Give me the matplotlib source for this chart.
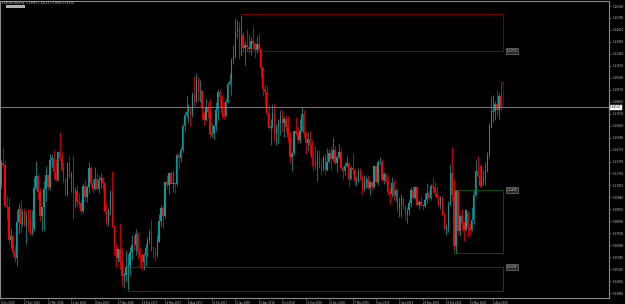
import matplotlib
matplotlib.use("Agg")
import matplotlib.pyplot as plt
from matplotlib.patches import Rectangle
import numpy as np

### Donnees : EURUSD hebdo, premiere bougie = semaine du 4 Oct 2015
opens = [
    1.1200, 1.1359, 1.1350, 1.1016, 1.1005, 1.0740, 1.0768, 1.0643, 1.0593, 1.0881,
    1.0990, 1.0866, 1.0966, 1.0862, 1.0925, 1.0915, 1.0796, 1.0831, 1.1157, 1.1255,
    1.1130, 1.0932, 1.1003, 1.1152, 1.1268, 1.1166, 1.1391, 1.1400, 1.1286, 1.1224,
    1.1454, 1.1403, 1.1310, 1.1225, 1.1115, 1.1365, 1.1253, 1.1275, 1.1116, 1.1138,
    1.1050, 1.1040, 1.0977, 1.1175, 1.1086, 1.1165, 1.1323, 1.1199, 1.1155, 1.1233,
    1.1155, 1.1228, 1.1240, 1.1200, 1.0972, 1.0886, 1.0986, 1.1139, 1.0851, 1.0690,
    1.0591, 1.0664, 1.0562, 1.0450, 1.0454, 1.0517, 1.0530, 1.0643, 1.0699, 1.0695,
    1.0785, 1.0641, 1.0615, 1.0562, 1.0620, 1.0672, 1.0735, 1.0800, 1.0652, 1.0641,
    1.0615, 1.0725, 1.0895, 1.0997, 1.0932, 1.1205, 1.1184, 1.1282, 1.1196, 1.1197,
    1.1195, 1.1425, 1.1400, 1.1470, 1.1665, 1.1750, 1.1775, 1.1820, 1.1760, 1.1925,
    1.1860, 1.2035, 1.1940, 1.1950, 1.1760, 1.1715, 1.1820, 1.1780, 1.1600, 1.1610,
    1.1665, 1.1795, 1.1935, 1.1895, 1.1770, 1.1745, 1.1860, 1.2005, 1.2030, 1.2200,
    1.2220, 1.2425, 1.2460, 1.2250, 1.2405, 1.2295, 1.2320, 1.2305, 1.2290, 1.2355,
    1.2325, 1.2280, 1.2330, 1.2290, 1.2130, 1.1960, 1.1940, 1.1770, 1.1650, 1.1660,
    1.1765, 1.1610, 1.1655, 1.1685, 1.1745, 1.1685, 1.1720, 1.1655, 1.1570, 1.1410,
    1.1440, 1.1620, 1.1600, 1.1550, 1.1625, 1.1760, 1.1605, 1.1525, 1.1560, 1.1510,
    1.1400, 1.1385, 1.1335, 1.1415, 1.1325, 1.1315, 1.1405, 1.1305, 1.1370, 1.1440,
    1.1395, 1.1470, 1.1365, 1.1410, 1.1455, 1.1325, 1.1295, 1.1335, 1.1365, 1.1235,
    1.1325, 1.1305, 1.1215, 1.1215, 1.1300, 1.1245, 1.1150, 1.1200, 1.1235, 1.1160,
    1.1205, 1.1170, 1.1335, 1.1210, 1.1370, 1.1370, 1.1225, 1.1270, 1.1220, 1.1125,
    1.1110, 1.1200, 1.1095, 1.1145, 1.0990, 1.1030, 1.1075, 1.1015, 1.0940, 1.0980,
    1.1040, 1.1145, 1.1080, 1.1165, 1.1020, 1.1050, 1.1020, 1.1015, 1.1060, 1.1120,
    1.1080, 1.1175, 1.1165, 1.1120, 1.1090, 1.1025, 1.1090, 1.0945, 1.0830, 1.0845,
    1.1025, 1.1285, 1.1105, 1.0690, 1.1140, 1.0810, 1.0935, 1.0875, 1.0820, 1.0960,
    1.0840, 1.0820, 1.0900, 1.1100, 1.1295, 1.1255, 1.1180, 1.1220, 1.1245, 1.1300,
    1.1425, 1.1655, 1.1775, 1.1785, 1.1840, 1.1795, 1.1905,
]
highs = [
    1.1387, 1.1495, 1.1387, 1.1095, 1.1087, 1.0829, 1.0785, 1.0690, 1.0981, 1.1042,
    1.1059, 1.0992, 1.0994, 1.0971, 1.0987, 1.0993, 1.0985, 1.1246, 1.1376, 1.1270,
    1.1160, 1.1015, 1.1218, 1.1342, 1.1276, 1.1438, 1.1439, 1.1465, 1.1398, 1.1462,
    1.1616, 1.1451, 1.1370, 1.1252, 1.1375, 1.1416, 1.1298, 1.1428, 1.1168, 1.1186,
    1.1120, 1.1063, 1.1198, 1.1234, 1.1187, 1.1367, 1.1342, 1.1240, 1.1328, 1.1279,
    1.1258, 1.1280, 1.1253, 1.1215, 1.1039, 1.0990, 1.1143, 1.1300, 1.0863, 1.0710,
    1.0672, 1.0874, 1.0670, 1.0480, 1.0654, 1.0621, 1.0684, 1.0775, 1.0775, 1.0829,
    1.0801, 1.0679, 1.0630, 1.0630, 1.0715, 1.0760, 1.0828, 1.0906, 1.0692, 1.0679,
    1.0779, 1.0949, 1.1020, 1.1024, 1.1212, 1.1268, 1.1285, 1.1296, 1.1296, 1.1210,
    1.1446, 1.1445, 1.1490, 1.1679, 1.1777, 1.1910, 1.1845, 1.1826, 1.1940, 1.2070,
    1.2092, 1.2059, 1.2034, 1.1956, 1.1788, 1.1880, 1.1860, 1.1880, 1.1688, 1.1675,
    1.1861, 1.1961, 1.1961, 1.1915, 1.1862, 1.1880, 1.2023, 1.2089, 1.2215, 1.2323,
    1.2537, 1.2524, 1.2508, 1.2555, 1.2425, 1.2355, 1.2446, 1.2413, 1.2388, 1.2476,
    1.2345, 1.2396, 1.2414, 1.2297, 1.2150, 1.1996, 1.1997, 1.1831, 1.1719, 1.1840,
    1.1852, 1.1676, 1.1720, 1.1790, 1.1791, 1.1746, 1.1750, 1.1746, 1.1621, 1.1450,
    1.1624, 1.1734, 1.1660, 1.1721, 1.1815, 1.1791, 1.1624, 1.1611, 1.1621, 1.1549,
    1.1457, 1.1500, 1.1472, 1.1472, 1.1402, 1.1425, 1.1442, 1.1486, 1.1474, 1.1498,
    1.1570, 1.1500, 1.1418, 1.1514, 1.1488, 1.1342, 1.1372, 1.1420, 1.1375, 1.1340,
    1.1448, 1.1326, 1.1255, 1.1323, 1.1324, 1.1265, 1.1265, 1.1255, 1.1264, 1.1214,
    1.1215, 1.1348, 1.1348, 1.1384, 1.1412, 1.1393, 1.1286, 1.1284, 1.1255, 1.1162,
    1.1250, 1.1230, 1.1153, 1.1164, 1.1085, 1.1109, 1.1080, 1.1025, 1.1000, 1.1063,
    1.1172, 1.1179, 1.1175, 1.1176, 1.1064, 1.1097, 1.1030, 1.1116, 1.1200, 1.1145,
    1.1190, 1.1239, 1.1205, 1.1173, 1.1100, 1.1096, 1.1095, 1.0963, 1.0865, 1.1053,
    1.1355, 1.1495, 1.1236, 1.1147, 1.1148, 1.0952, 1.0991, 1.0889, 1.0990, 1.0975,
    1.0875, 1.1008, 1.1146, 1.1384, 1.1423, 1.1348, 1.1349, 1.1303, 1.1371, 1.1452,
    1.1689, 1.1908, 1.1916, 1.1865, 1.1966, 1.1928, 1.2011,
]
lows = [
    1.1161, 1.1340, 1.1004, 1.0897, 1.0705, 1.0675, 1.0616, 1.0557, 1.0524, 1.0796,
    1.0805, 1.0850, 1.0848, 1.0710, 1.0805, 1.0778, 1.0775, 1.0810, 1.1140, 1.1067,
    1.0896, 1.0809, 1.0822, 1.1055, 1.1144, 1.1143, 1.1327, 1.1233, 1.1217, 1.1216,
    1.1383, 1.1301, 1.1201, 1.1097, 1.1098, 1.1240, 1.1131, 1.0912, 1.0999, 1.1004,
    1.0998, 1.0952, 1.0960, 1.1046, 1.1046, 1.1123, 1.1180, 1.1123, 1.1144, 1.1147,
    1.1123, 1.1163, 1.1134, 1.0956, 1.0859, 1.0851, 1.0942, 1.0840, 1.0616, 1.0518,
    1.0560, 1.0505, 1.0366, 1.0352, 1.0405, 1.0340, 1.0453, 1.0580, 1.0655, 1.0619,
    1.0592, 1.0521, 1.0494, 1.0493, 1.0525, 1.0600, 1.0715, 1.0650, 1.0590, 1.0569,
    1.0603, 1.0721, 1.0850, 1.0839, 1.0920, 1.1161, 1.1109, 1.1190, 1.1131, 1.1118,
    1.1176, 1.1312, 1.1372, 1.1450, 1.1613, 1.1728, 1.1688, 1.1661, 1.1733, 1.1823,
    1.1857, 1.1868, 1.1861, 1.1717, 1.1669, 1.1705, 1.1731, 1.1574, 1.1573, 1.1554,
    1.1620, 1.1713, 1.1817, 1.1729, 1.1718, 1.1734, 1.1850, 1.1998, 1.1915, 1.2165,
    1.2214, 1.2376, 1.2206, 1.2231, 1.2260, 1.2154, 1.2273, 1.2258, 1.2240, 1.2284,
    1.2215, 1.2256, 1.2273, 1.2055, 1.1910, 1.1823, 1.1750, 1.1637, 1.1510, 1.1645,
    1.1541, 1.1508, 1.1527, 1.1590, 1.1616, 1.1575, 1.1616, 1.1531, 1.1365, 1.1301,
    1.1431, 1.1588, 1.1526, 1.1529, 1.1613, 1.1573, 1.1432, 1.1462, 1.1432, 1.1336,
    1.1302, 1.1314, 1.1216, 1.1320, 1.1267, 1.1300, 1.1269, 1.1301, 1.1359, 1.1309,
    1.1380, 1.1354, 1.1289, 1.1399, 1.1318, 1.1234, 1.1263, 1.1330, 1.1176, 1.1225,
    1.1273, 1.1176, 1.1182, 1.1205, 1.1228, 1.1112, 1.1135, 1.1160, 1.1155, 1.1107,
    1.1140, 1.1160, 1.1202, 1.1181, 1.1351, 1.1207, 1.1193, 1.1201, 1.1101, 1.1027,
    1.1090, 1.1066, 1.1051, 1.0963, 1.0926, 1.0927, 1.0990, 1.0903, 1.0879, 1.0940,
    1.1010, 1.1073, 1.1070, 1.1015, 1.0989, 1.1015, 1.0981, 1.1000, 1.1040, 1.1065,
    1.1066, 1.1125, 1.1086, 1.1086, 1.1018, 1.0992, 1.0940, 1.0827, 1.0778, 1.0806,
    1.1023, 1.1054, 1.0654, 1.0636, 1.0778, 1.0769, 1.0812, 1.0727, 1.0811, 1.0766,
    1.0775, 1.0815, 1.0870, 1.1099, 1.1250, 1.1168, 1.1170, 1.1186, 1.1185, 1.1290,
    1.1400, 1.1650, 1.1696, 1.1711, 1.1753, 1.1722, 1.1789,
]
closes = [
    1.1359, 1.1350, 1.1016, 1.1005, 1.0740, 1.0768, 1.0643, 1.0593, 1.0881, 1.0990,
    1.0866, 1.0966, 1.0862, 1.0925, 1.0915, 1.0796, 1.0831, 1.1157, 1.1255, 1.1130,
    1.0932, 1.1003, 1.1152, 1.1268, 1.1166, 1.1391, 1.1400, 1.1286, 1.1224, 1.1454,
    1.1403, 1.1310, 1.1225, 1.1115, 1.1365, 1.1253, 1.1275, 1.1116, 1.1138, 1.1050,
    1.1040, 1.0977, 1.1175, 1.1086, 1.1165, 1.1323, 1.1199, 1.1155, 1.1233, 1.1155,
    1.1228, 1.1240, 1.1200, 1.0972, 1.0886, 1.0986, 1.1139, 1.0851, 1.0690, 1.0591,
    1.0664, 1.0562, 1.0450, 1.0454, 1.0517, 1.0530, 1.0643, 1.0699, 1.0695, 1.0785,
    1.0641, 1.0615, 1.0562, 1.0620, 1.0672, 1.0735, 1.0800, 1.0652, 1.0641, 1.0615,
    1.0725, 1.0895, 1.0997, 1.0932, 1.1205, 1.1184, 1.1282, 1.1196, 1.1197, 1.1195,
    1.1425, 1.1400, 1.1470, 1.1665, 1.1750, 1.1775, 1.1820, 1.1760, 1.1925, 1.1860,
    1.2035, 1.1940, 1.1950, 1.1815, 1.1715, 1.1820, 1.1780, 1.1600, 1.1610, 1.1665,
    1.1795, 1.1935, 1.1895, 1.1770, 1.1745, 1.1860, 1.2005, 1.2030, 1.2200, 1.2220,
    1.2425, 1.2460, 1.2250, 1.2405, 1.2295, 1.2320, 1.2305, 1.2290, 1.2355, 1.2325,
    1.2280, 1.2330, 1.2290, 1.2130, 1.1960, 1.1940, 1.1770, 1.1650, 1.1660, 1.1765,
    1.1610, 1.1655, 1.1685, 1.1745, 1.1685, 1.1720, 1.1655, 1.1570, 1.1410, 1.1440,
    1.1620, 1.1600, 1.1550, 1.1625, 1.1760, 1.1605, 1.1525, 1.1560, 1.1510, 1.1400,
    1.1385, 1.1335, 1.1415, 1.1325, 1.1315, 1.1405, 1.1305, 1.1370, 1.1440, 1.1395,
    1.1470, 1.1365, 1.1410, 1.1455, 1.1325, 1.1295, 1.1335, 1.1365, 1.1235, 1.1325,
    1.1305, 1.1215, 1.1215, 1.1300, 1.1245, 1.1150, 1.1200, 1.1235, 1.1160, 1.1205,
    1.1170, 1.1335, 1.1210, 1.1370, 1.1370, 1.1225, 1.1270, 1.1220, 1.1125, 1.1110,
    1.1200, 1.1095, 1.1145, 1.0990, 1.1030, 1.1075, 1.1015, 1.0940, 1.0980, 1.1040,
    1.1145, 1.1080, 1.1165, 1.1020, 1.1050, 1.1020, 1.1015, 1.1060, 1.1120, 1.1080,
    1.1175, 1.1165, 1.1120, 1.1090, 1.1025, 1.1090, 1.0945, 1.0830, 1.0845, 1.1025,
    1.1285, 1.1105, 1.0690, 1.1140, 1.0810, 1.0935, 1.0875, 1.0820, 1.0980, 1.0840,
    1.0820, 1.0900, 1.1100, 1.1295, 1.1255, 1.1180, 1.1220, 1.1245, 1.1300, 1.1425,
    1.1655, 1.1775, 1.1785, 1.1840, 1.1795, 1.1905, 1.1813,
]

# etiquettes de dates toutes les 12 semaines
date_idx = [0, 12, 24, 36, 48, 60, 72, 84, 96, 108, 120, 132, 144, 156, 168,
            180, 192, 204, 216, 228, 240, 252]
date_labels = ["4 Oct 2015", "27 Dec 2015", "20 Mar 2016", "12 Jun 2016", "4 Sep 2016",
               "27 Nov 2016", "19 Feb 2017", "14 May 2017", "6 Aug 2017", "29 Oct 2017",
               "21 Jan 2018", "15 Apr 2018", "8 Jul 2018", "30 Sep 2018", "23 Dec 2018",
               "17 Mar 2019", "9 Jun 2019", "1 Sep 2019", "24 Nov 2019", "16 Feb 2020",
               "10 May 2020", "2 Aug 2020"]

# echelle de prix (pas MT4 non rond)
price_ticks = [1.26360, 1.25390, 1.24420, 1.23450, 1.22480, 1.21510, 1.20540, 1.19570,
               1.18600, 1.17630, 1.16660, 1.15690, 1.14720, 1.13750, 1.12780, 1.11810,
               1.10840, 1.09870, 1.08900, 1.07930, 1.06960, 1.05990, 1.05020, 1.04050,
               1.03080]

title_text = "EURUSD,Weekly  1.19050 1.20113 1.17890 1.18130"
bid_price = 1.18130

# zones dessinees : (index debut, index fin, prix bas, prix haut, prix etiquette)
red_zones = [(123, 257.2, 1.2271, 1.2570, 1.2271), (256, 257.2, 1.1817, 1.2019, None)]
green_zones = [(232, 257.2, 1.0630, 1.1144, 1.1144), (65, 257.2, 1.0325, 1.0519, 1.0519)]

### Figure
W, H = 625, 304
fig = plt.figure(figsize=(W / 100, H / 100), dpi=100, facecolor="black")
ax = fig.add_axes([0, 6 / H, 609 / W, 297 / H], facecolor="black")

bull = "#009c9c"
bear = "#ff0000"
grey = "#8a8a8a"
txt = "#c8c8c8"

o = np.array(opens)
h = np.array(highs)
l = np.array(lows)
c = np.array(closes)
x = np.arange(len(c))
cols = np.where(c >= o, bull, bear)

ax.vlines(x, l, h, colors=cols, linewidth=0.55)
body = np.maximum(np.abs(c - o), 0.00025)
ax.bar(x, body, bottom=np.minimum(o, c), width=0.72, color=cols, linewidth=0)

# zones rectangles
for x0, x1, p0, p1, lab in red_zones:
    ax.add_patch(Rectangle((x0, p0), x1 - x0, p1 - p0, fill=False,
                           edgecolor="#8b0000", linewidth=0.6))
    if lab is not None:
        ax.text(258.8, lab, f"{lab:.5f}", fontsize=1.9, color=txt, va="center", ha="left",
                bbox=dict(boxstyle="square,pad=0.25", fc="#2a2a2a", ec=grey, lw=0.4))
for x0, x1, p0, p1, lab in green_zones:
    ax.add_patch(Rectangle((x0, p0), x1 - x0, p1 - p0, fill=False,
                           edgecolor="#0a5a0a", linewidth=0.6))
    ax.text(258.8, lab, f"{lab:.5f}", fontsize=1.9, color=txt, va="center", ha="left",
            bbox=dict(boxstyle="square,pad=0.25", fc="#2a2a2a", ec=grey, lw=0.4))

# ligne du bid
ax.axhline(bid_price, color=grey, linewidth=0.6)

ax.set_xlim(-0.51, 311.3)
ax.set_ylim(1.02680, 1.26767)

ax.yaxis.tick_right()
ax.set_yticks(price_ticks)
ax.set_yticklabels([f"{p:.5f}" for p in price_ticks])
ax.set_xticks(date_idx)
ax.set_xticklabels(date_labels, ha="left")
ax.tick_params(axis="y", colors=grey, labelcolor=txt, labelsize=2.0, length=1.5,
               width=0.4, pad=1.2)
ax.tick_params(axis="x", colors=grey, labelcolor=txt, labelsize=1.8, length=1.5,
               width=0.4, pad=0.6)
for s in ax.spines.values():
    s.set_color(grey)
    s.set_linewidth(0.8)

# etiquette du prix courant sur l'axe
ax.text(1.002, bid_price, f"{bid_price:.5f}", transform=ax.get_yaxis_transform(),
        fontsize=2.0, color="black", va="center", ha="left", clip_on=False,
        bbox=dict(boxstyle="square,pad=0.2", fc="white", ec="white", lw=0.3))

# titre en haut a gauche
fig.text(2 / W, 1 - 3 / H, title_text, fontsize=2.0, color=txt, va="center", ha="left")
fig.patches.append(Rectangle((6 / W, 1 - 8 / H), 19 / W, 3.5 / H, transform=fig.transFigure,
                             facecolor="#b0b0b0", edgecolor="none"))

plt.savefig("out.png", dpi=100, facecolor="black")
plt.close()
